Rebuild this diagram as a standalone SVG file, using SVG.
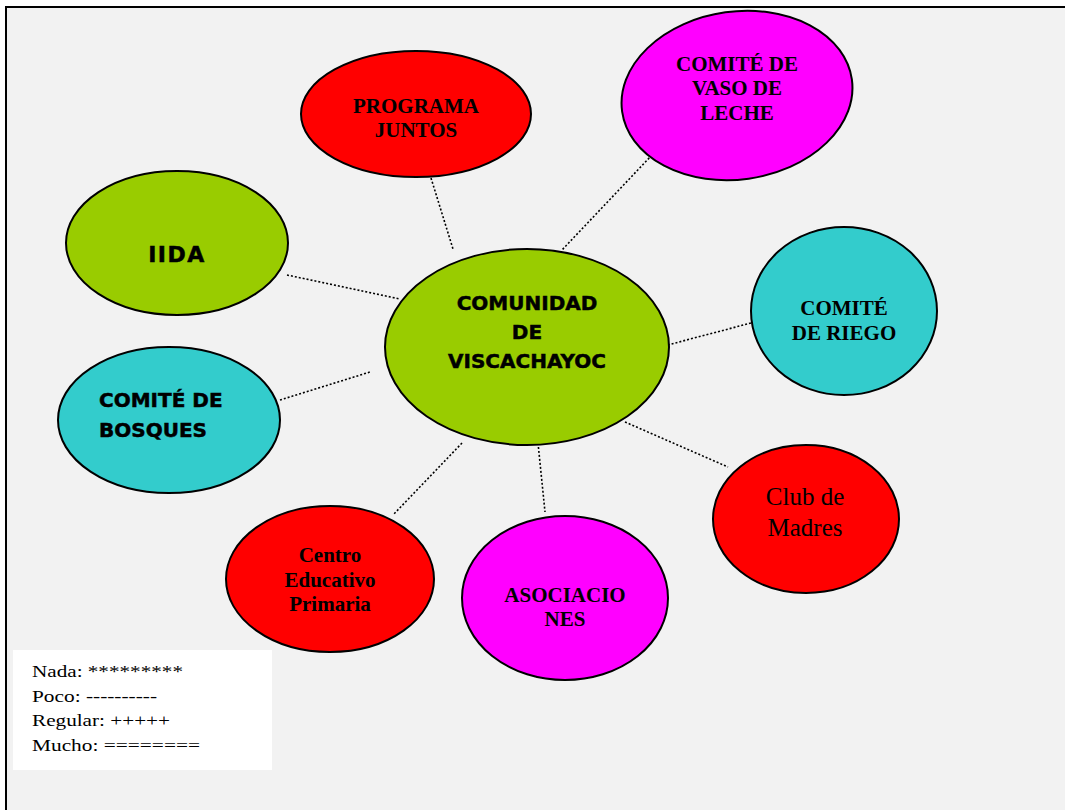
<svg xmlns="http://www.w3.org/2000/svg" width="1065" height="810" viewBox="0 0 1065 810">
<style>
.node{stroke:#000;stroke-width:2}
.red{fill:#ff0000}.mag{fill:#ff00ff}.cyan{fill:#33cccc}.green{fill:#99cc00}
.tb{font-family:"Liberation Serif","Times New Roman",serif;font-weight:bold;font-size:21px;fill:#000;text-anchor:middle}
.cs{font-family:"Comic Sans MS","DejaVu Sans",sans-serif;font-weight:bold;font-size:20px;fill:#000;stroke:#000;stroke-width:0.5}
.tr{font-family:"Liberation Serif","Times New Roman",serif;font-size:25px;fill:#000;text-anchor:middle}
.leg{font-family:"Liberation Serif","Times New Roman",serif;font-size:16.5px;fill:#000}
.conn line{stroke:#000;stroke-width:1.6;stroke-dasharray:2 2;fill:none}
</style>
<rect x="0" y="0" width="1065" height="810" fill="#ffffff"/>
<rect x="6" y="7" width="1070" height="815" fill="#f2f2f2" stroke="#000" stroke-width="2"/>
<g class="conn" id="connectors">
<line x1="431" y1="178" x2="453" y2="249"/>
<line x1="652" y1="155" x2="562" y2="250"/>
<line x1="660" y1="347" x2="751" y2="323"/>
<line x1="287" y1="275" x2="400" y2="299"/>
<line x1="280" y1="400" x2="370" y2="372"/>
<line x1="625" y1="422" x2="728" y2="467"/>
<line x1="538" y1="443" x2="545" y2="512"/>
<line x1="462" y1="443" x2="393" y2="515"/>
</g>
<g id="programa-juntos">
<ellipse class="node red" cx="416" cy="114" rx="115" ry="63"/>
<text class="tb" x="416" y="113">PROGRAMA</text>
<text class="tb" x="416" y="137">JUNTOS</text>
</g>
<g id="vaso-de-leche">
<ellipse class="node mag" cx="737" cy="95.5" rx="116" ry="84" transform="rotate(-8 737 95.5)"/>
<text class="tb" x="737" y="71">COMITÉ DE</text>
<text class="tb" x="737" y="95">VASO DE</text>
<text class="tb" x="737" y="120">LECHE</text>
</g>
<g id="comite-riego">
<ellipse class="node cyan" cx="844" cy="311" rx="93" ry="84"/>
<text class="tb" x="844" y="315">COMITÉ</text>
<text class="tb" x="844" y="340">DE RIEGO</text>
</g>
<g id="comunidad">
<ellipse class="node green" cx="527" cy="347" rx="142" ry="98"/>
<text class="cs" x="527" y="310" text-anchor="middle">COMUNIDAD</text>
<text class="cs" x="527" y="339" text-anchor="middle">DE</text>
<text class="cs" x="527" y="368" text-anchor="middle">VISCACHAYOC</text>
</g>
<g id="iida">
<ellipse class="node green" cx="177" cy="243" rx="111" ry="72"/>
<text class="cs" x="177" y="262" text-anchor="middle" style="font-size:22px;letter-spacing:1.5px">IIDA</text>
</g>
<g id="comite-bosques">
<ellipse class="node cyan" cx="169" cy="420" rx="111" ry="73"/>
<text class="cs" x="99" y="407">COMITÉ DE</text>
<text class="cs" x="99" y="437">BOSQUES</text>
</g>
<g id="club-madres">
<ellipse class="node red" cx="806" cy="519" rx="93" ry="74"/>
<text class="tr" x="805" y="505">Club de</text>
<text class="tr" x="805" y="536">Madres</text>
</g>
<g id="asociaciones">
<ellipse class="node mag" cx="565" cy="598" rx="103" ry="82"/>
<text class="tb" x="565" y="602">ASOCIACIO</text>
<text class="tb" x="565" y="626">NES</text>
</g>
<g id="centro-educativo">
<ellipse class="node red" cx="330" cy="579" rx="104" ry="73"/>
<text class="tb" x="330" y="562">Centro</text>
<text class="tb" x="330" y="587">Educativo</text>
<text class="tb" x="330" y="611">Primaria</text>
</g>
<g id="legend">
<rect x="13" y="650" width="259" height="120" fill="#ffffff"/>
<text class="leg" x="32" y="677" textLength="151" lengthAdjust="spacingAndGlyphs">Nada: *********</text>
<text class="leg" x="32" y="702" textLength="125" lengthAdjust="spacingAndGlyphs">Poco: ----------</text>
<text class="leg" x="32" y="726" textLength="138" lengthAdjust="spacingAndGlyphs">Regular: +++++</text>
<text class="leg" x="32" y="751" textLength="168" lengthAdjust="spacingAndGlyphs">Mucho: ========</text>
</g>
</svg>
